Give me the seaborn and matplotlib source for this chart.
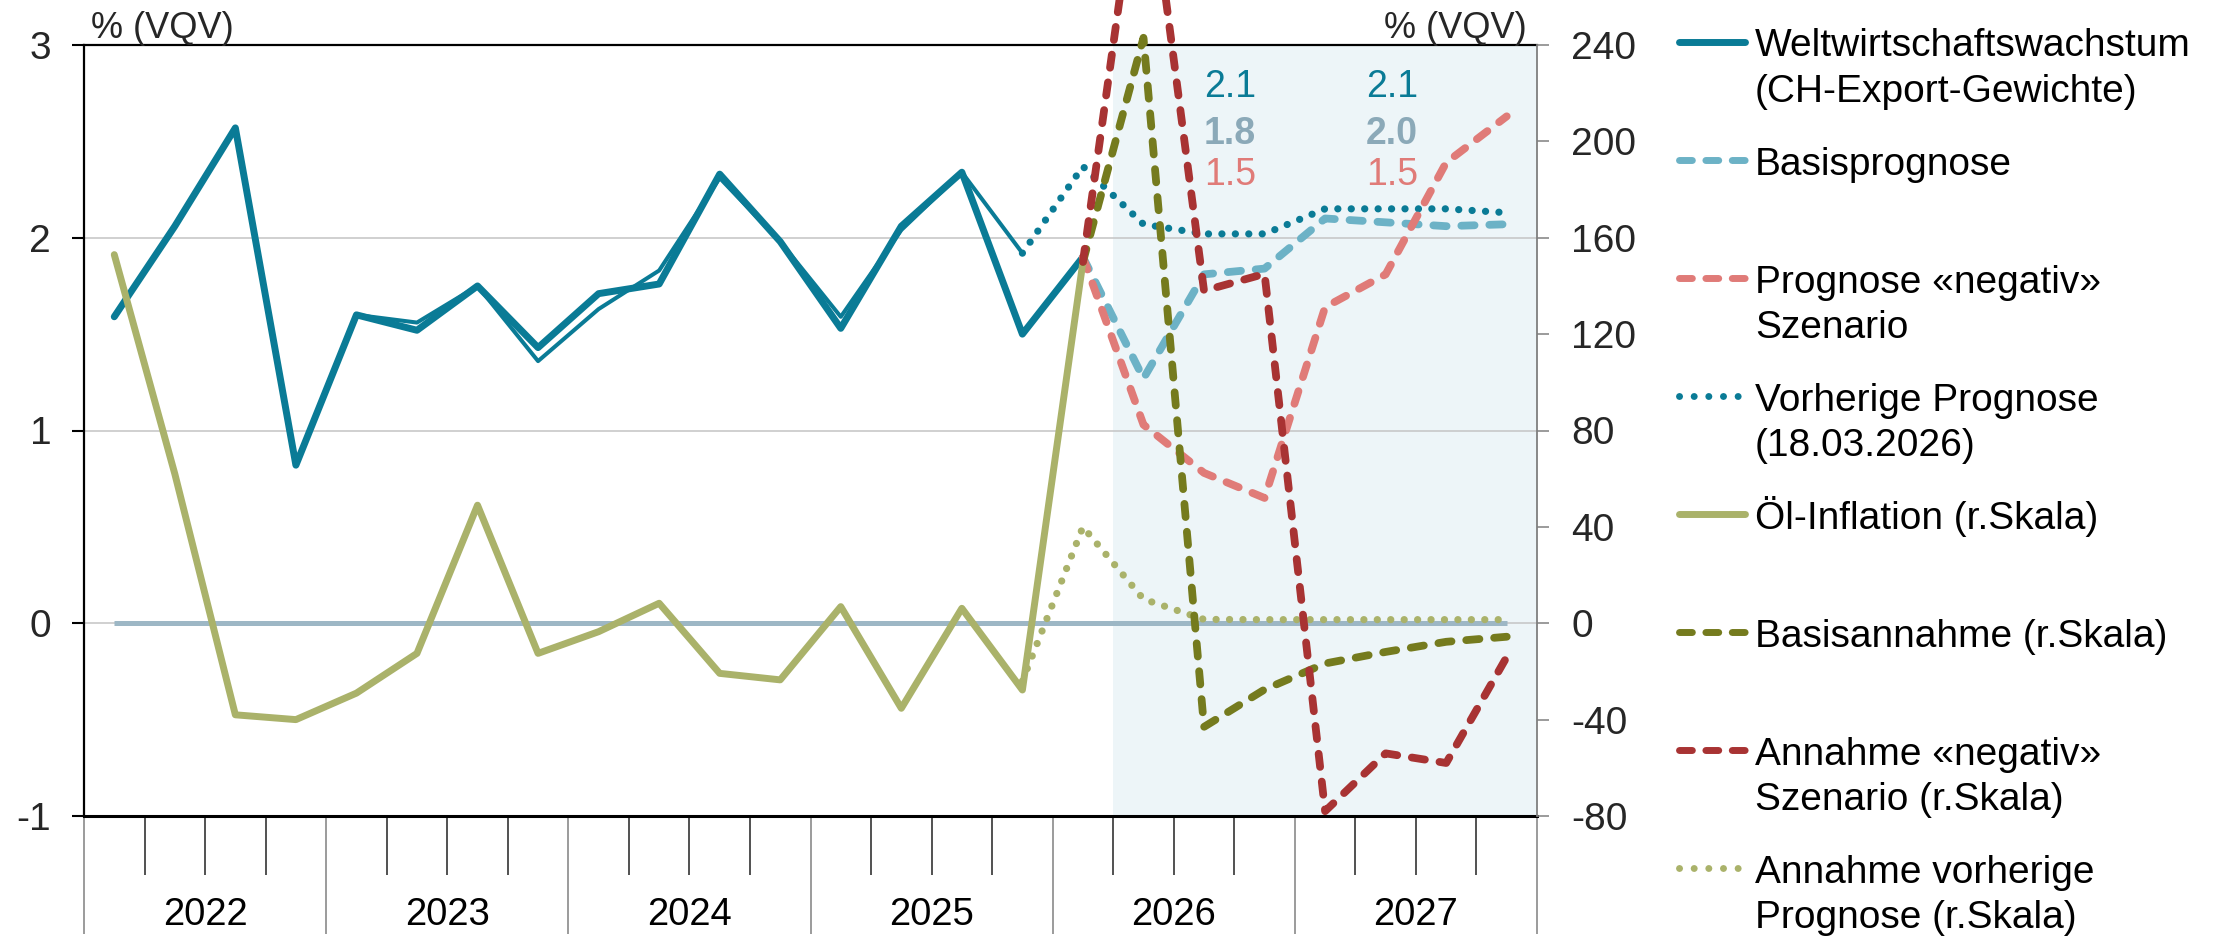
import matplotlib
matplotlib.use("Agg")
import matplotlib.pyplot as plt
import matplotlib.transforms as mtransforms
from matplotlib.lines import Line2D
import seaborn as sns

# ---------------- data ----------------
years = [2022, 2023, 2024, 2025, 2026, 2027]
n_quarters = 24  # Q1 2022 .. Q4 2027, x = quarter index

# Weltwirtschaftswachstum (left axis), Q1 2022 .. Q1 2026
gdp_actual = [1.59, 2.06, 2.57, 0.82, 1.60, 1.52, 1.75, 1.43, 1.71, 1.76,
              2.33, 1.98, 1.53, 2.06, 2.34, 1.50, 1.90]
# history of previous forecast vintage, Q1 2022 .. Q4 2025
prev_actual = [1.59, 2.06, 2.57, 0.82, 1.60, 1.56, 1.75, 1.36, 1.63, 1.83,
               2.31, 1.98, 1.59, 2.04, 2.34, 1.92]
# Vorherige Prognose, Q4 2025 .. Q4 2027
prev_forecast = [1.92, 2.37, 2.07, 2.02, 2.02, 2.15, 2.15, 2.15, 2.13]
# Basisprognose, Q1 2026 .. Q4 2027
base_forecast = [1.90, 1.27, 1.81, 1.84, 2.10, 2.08, 2.06, 2.07]
# Prognose «negativ» Szenario, Q1 2026 .. Q4 2027
neg_forecast = [1.90, 1.03, 0.78, 0.65, 1.64, 1.81, 2.39, 2.63]

# Öl-Inflation (right axis), Q1 2022 .. Q1 2026
oil_actual = [153, 62, -38, -40, -29, -12.5, 49, -12.5, -3.5, 8.3,
              -20.8, -23.5, 6.9, -35.3, 6.2, -27.7, 150]
# Basisannahme, Q1 2026 .. Q4 2027
oil_base = [150, 243, -43, -27.5, -16.7, -11.9, -7.7, -5.6]
# Annahme «negativ» Szenario, Q1 2026 .. Q4 2027
oil_neg = [150, 330, 138, 145, -78, -54, -58, -14]
# Annahme vorherige Prognose, Q4 2025 .. Q4 2027
oil_prev = [-24, 40, 10, 1.6, 1.5, 1.5, 1.5, 1.5, 1.5]

# zero reference line across all quarters
zero_line = [0.0] * n_quarters

# annual averages shown in the forecast area
annual_years = [2026, 2027]
annual_prev = ["2.1", "2.1"]
annual_base = ["1.8", "2.0"]
annual_neg = ["1.5", "1.5"]

legend_labels = [
    ["Weltwirtschaftswachstum", "(CH-Export-Gewichte)"],
    ["Basisprognose"],
    ["Prognose «negativ»", "Szenario"],
    ["Vorherige Prognose", "(18.03.2026)"],
    ["Öl-Inflation (r.Skala)"],
    ["Basisannahme (r.Skala)"],
    ["Annahme «negativ»", "Szenario (r.Skala)"],
    ["Annahme vorherige", "Prognose (r.Skala)"],
]

# ---------------- style ----------------
C_TEAL = "#0A7B96"
C_LBLUE = "#6CB2C6"
C_SALMON = "#E07B78"
C_OLIVE = "#AAB26A"
C_DOLIVE = "#757B1E"
C_RED = "#A83333"
C_ZERO = "#9DB7C5"
C_GREYBLUE = "#8BA9B8"
C_SHADE = "#EDF5F8"

sns.set_theme(style="white")
plt.rcParams["font.family"] = ["Liberation Sans", "DejaVu Sans"]
plt.rcParams["axes.unicode_minus"] = False

W, H = 2229, 940
fig = plt.figure(figsize=(W / 100, H / 100), dpi=100)
ax = fig.add_axes([84 / W, 1 - 816 / H, (1537 - 84) / W, (816 - 45) / H])
ax2 = ax.twinx()

LW_SOLID = 5.0
LW_THIN = 2.9
LW_DASH = 5.6
LW_DOT = 5.2
DASH = (0, (1.7, 1.9))
DOT = (0, (0.01, 1.85))

q = list(range(n_quarters))


def draw(axis, xs, ys, color, lw, ls="-", z=3):
    sns.lineplot(x=xs, y=ys, ax=axis, color=color, linewidth=lw)
    ln = axis.lines[-1]
    ln.set_linestyle(ls)
    ln.set_dash_capstyle("round")
    ln.set_solid_capstyle("round")
    ln.set_solid_joinstyle("round")
    ln.set_zorder(z)
    ln.set_clip_on(False)
    return ln


# shaded forecast area (from Q2 2026)
ax.axvspan(16.5, 23.5, color=C_SHADE, zorder=0, lw=0)

# zero line
zl = draw(ax, q, zero_line, C_ZERO, 3.6, "-", z=1)
zl.set_solid_capstyle("butt")

# left axis series
draw(ax, q[:16], prev_actual, C_TEAL, LW_THIN, "-", z=3)
draw(ax, q[15:], prev_forecast, C_TEAL, LW_DOT, DOT, z=3)
draw(ax, q[:17], gdp_actual, C_TEAL, LW_SOLID, "-", z=4)
draw(ax, q[16:], base_forecast, C_LBLUE, LW_DASH, DASH, z=4)
draw(ax, q[16:], neg_forecast, C_SALMON, LW_DASH, DASH, z=4)

# right axis series
draw(ax2, q[:17], oil_actual, C_OLIVE, LW_SOLID, "-", z=3)
draw(ax2, q[15:], oil_prev, C_OLIVE, LW_DOT, DOT, z=3)
draw(ax2, q[16:], oil_base, C_DOLIVE, LW_DASH, DASH, z=4)
draw(ax2, q[16:], oil_neg, C_RED, LW_DASH, DASH, z=4)

# ---------------- axes ----------------
ax.set_xlim(-0.5, n_quarters - 0.5)
ax.set_ylim(-1, 3)
ax2.set_ylim(-80, 240)

ax.set_yticks([-1, 0, 1, 2, 3])
ax.set_yticklabels(["-1", "0", "1", "2", "3"])
ax2.set_yticks([-80, -40, 0, 40, 80, 120, 160, 200, 240])
ax2.set_yticklabels(["-80", "-40", "0", "40", "80", "120", "160", "200", "240"])

ax.yaxis.grid(True, color="#C4C4C4", lw=1.1)
ax.xaxis.grid(False)
ax2.grid(False)
ax.set_axisbelow(True)

ax.tick_params(axis="y", which="major", direction="out", length=8.6, width=1.5,
               color="black", labelsize=28, pad=15, left=True, right=False)
ax2.tick_params(axis="y", which="major", direction="out", length=8.6, width=1.1,
                color="#808080", labelsize=28, pad=16, right=True, left=False)

year_bounds = [4 * i - 0.5 for i in range(len(years) + 1)]
quarter_bounds = [b for b in [i - 0.5 for i in range(n_quarters + 1)]
                  if b not in year_bounds]
ax.set_xticks(year_bounds)
ax.set_xticklabels([""] * len(year_bounds))
ax.set_xticks(quarter_bounds, minor=True)
ax.tick_params(axis="x", which="major", direction="out", length=85, width=1.1,
               color="#808080", bottom=True)
ax.tick_params(axis="x", which="minor", direction="out", length=42.5, width=1.1,
               color="#222222", bottom=True)
ax2.tick_params(axis="x", which="both", bottom=False, top=False,
                labelbottom=False)

for s in ["left", "top", "bottom"]:
    ax.spines[s].set_visible(True)
    ax.spines[s].set_color("black")
ax.spines["left"].set_linewidth(1.6)
ax.spines["top"].set_linewidth(1.6)
ax.spines["bottom"].set_linewidth(2.2)
ax.spines["right"].set_visible(False)
for s in ["left", "top", "bottom"]:
    ax2.spines[s].set_visible(False)
ax2.spines["right"].set_visible(True)
ax2.spines["right"].set_color("#7F7F7F")
ax2.spines["right"].set_linewidth(1.3)
ax.set_xlabel("")
ax.set_ylabel("")
ax2.set_ylabel("")

# year labels
trans = mtransforms.blended_transform_factory(ax.transData, ax.transAxes)
for i, yr in enumerate(years):
    ax.text(4 * i + 1.5, -0.128, str(yr), transform=trans, ha="center",
            va="center", fontsize=27.5, color="black")

# annual averages
annual_x = [18.43, 21.1]
for xi, a, b, c in zip(annual_x, annual_prev, annual_base, annual_neg):
    ax.text(xi, 2.78, a, ha="center", va="center", fontsize=27, color=C_TEAL,
            zorder=6)
    ax.text(xi, 2.54, b, ha="center", va="center", fontsize=27,
            color=C_GREYBLUE, fontweight="bold", zorder=6)
    ax.text(xi, 2.325, c, ha="center", va="center", fontsize=27,
            color=C_SALMON, zorder=6)

# unit labels
fig.text(91 / W, 1 - 38 / H, "% (VQV)", ha="left", va="baseline", fontsize=26)
fig.text(1527 / W, 1 - 38 / H, "% (VQV)", ha="right", va="baseline",
         fontsize=26)

# ---------------- legend (drawn in figure space) ----------------
leg_styles = [
    dict(color=C_TEAL, ls="-"),
    dict(color=C_LBLUE, ls=(0, (1.85, 1.95))),
    dict(color=C_SALMON, ls=(0, (1.85, 1.95))),
    dict(color=C_TEAL, ls=(0, (0.01, 2.1))),
    dict(color=C_OLIVE, ls="-"),
    dict(color=C_DOLIVE, ls=(0, (1.85, 1.95))),
    dict(color=C_RED, ls=(0, (1.85, 1.95))),
    dict(color=C_OLIVE, ls=(0, (0.01, 2.1))),
]
leg_y0, leg_dy = 41.5, 118.1
for k, (lab, st) in enumerate(zip(legend_labels, leg_styles)):
    yk = leg_y0 + k * leg_dy
    line = Line2D([1678.5 / W, 1744.5 / W], [1 - yk / H, 1 - yk / H],
                  transform=fig.transFigure, color=st["color"],
                  linestyle=st["ls"], lw=5.0, solid_capstyle="round",
                  dash_capstyle="round")
    fig.add_artist(line)
    for j, txt in enumerate(lab):
        fig.text(1755 / W, 1 - (yk + 15 + 45 * j) / H, txt, ha="left",
                 va="baseline", fontsize=28, color="black")

fig.savefig("out.png", dpi=100)
